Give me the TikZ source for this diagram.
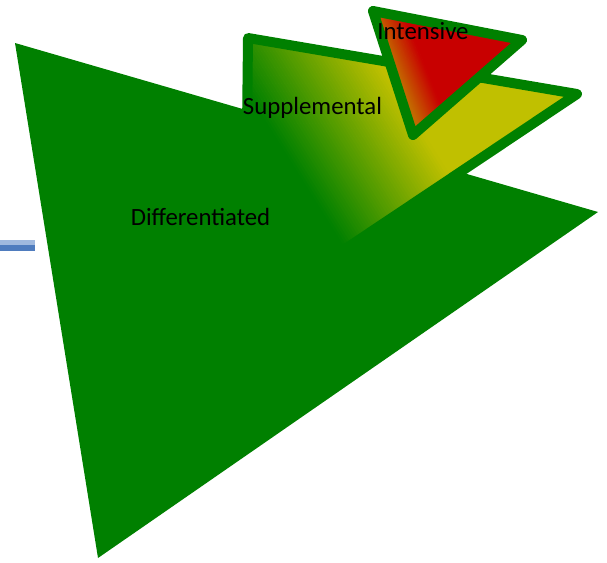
\documentclass[tikz,border=0pt]{standalone}
\usepackage{fontspec}
\setmainfont{Carlito}
\definecolor{dgreen}{RGB}{0,128,0}
\definecolor{olive}{RGB}{192,192,0}
\definecolor{dred}{RGB}{200,0,0}
\definecolor{orng}{RGB}{196,104,0}
\definecolor{lblue}{RGB}{160,185,222}
\definecolor{mblue}{RGB}{79,124,190}
\tikzset{
  lbl/.style={font=\fontsize{24.8}{25}\selectfont, text=black, inner sep=0pt},
  tri/.style={draw=dgreen, line width=10pt, line join=round}
}
\begin{document}
\begin{tikzpicture}[x=1pt,y=-1pt]
\useasboundingbox (0,0) rectangle (607,562);
% blue line
\fill[lblue] (0,240) rectangle (35,244.5);
\fill[mblue] (0,244.5) rectangle (35,251);
% big triangle
\fill[dgreen] (15,43) coordinate (b1) -- (598,212) coordinate (b2) -- (98,558) coordinate (b3) -- cycle;
% supplemental
\coordinate (s1) at (248,38);
\coordinate (s2) at (577,94);
\coordinate (s3) at (245,316);
\begin{scope}
  \clip (s1) -- (s2) -- (s3) -- cycle;
  \begin{scope}[shift={(290,160)}, rotate=32]
    \fill[dgreen] (-700,-700) rectangle (0.5,700);
    \fill[olive] (127,-700) rectangle (700,700);
    \foreach \i in {0,...,49}{
      \pgfmathsetmacro{\p}{(\i+0.5)*2}
      \fill[olive!\p!dgreen] ({\i*127/50},-700) rectangle ({(\i+1)*127/50+0.6},700);
    }
  \end{scope}
\end{scope}
\draw[tri] (s1) -- (s2) -- (s3) -- cycle;
% intensive
\coordinate (i1) at (373,11);
\coordinate (i2) at (522,40);
\coordinate (i3) at (413,135);
\begin{scope}
  \clip (i1) -- (i2) -- (i3) -- cycle;
  \begin{scope}[shift={(395,67)}, rotate=22]
    \fill[orng] (-700,-700) rectangle (0.5,700);
    \fill[dred] (28,-700) rectangle (700,700);
    \foreach \i in {0,...,27}{
      \pgfmathsetmacro{\p}{(\i+0.5)*100/28}
      \fill[dred!\p!orng] ({\i},-700) rectangle ({\i+1.6},700);
    }
  \end{scope}
\end{scope}
\draw[tri] (i1) -- (i2) -- (i3) -- cycle;
% labels
\node[lbl] (diff) at (200.5,217) {Differentiated};
\node[lbl] (supp) at (312.5,108) {Supplemental};
\node[lbl] (int) at (423,31) {Intensive};
\end{tikzpicture}
\end{document}
